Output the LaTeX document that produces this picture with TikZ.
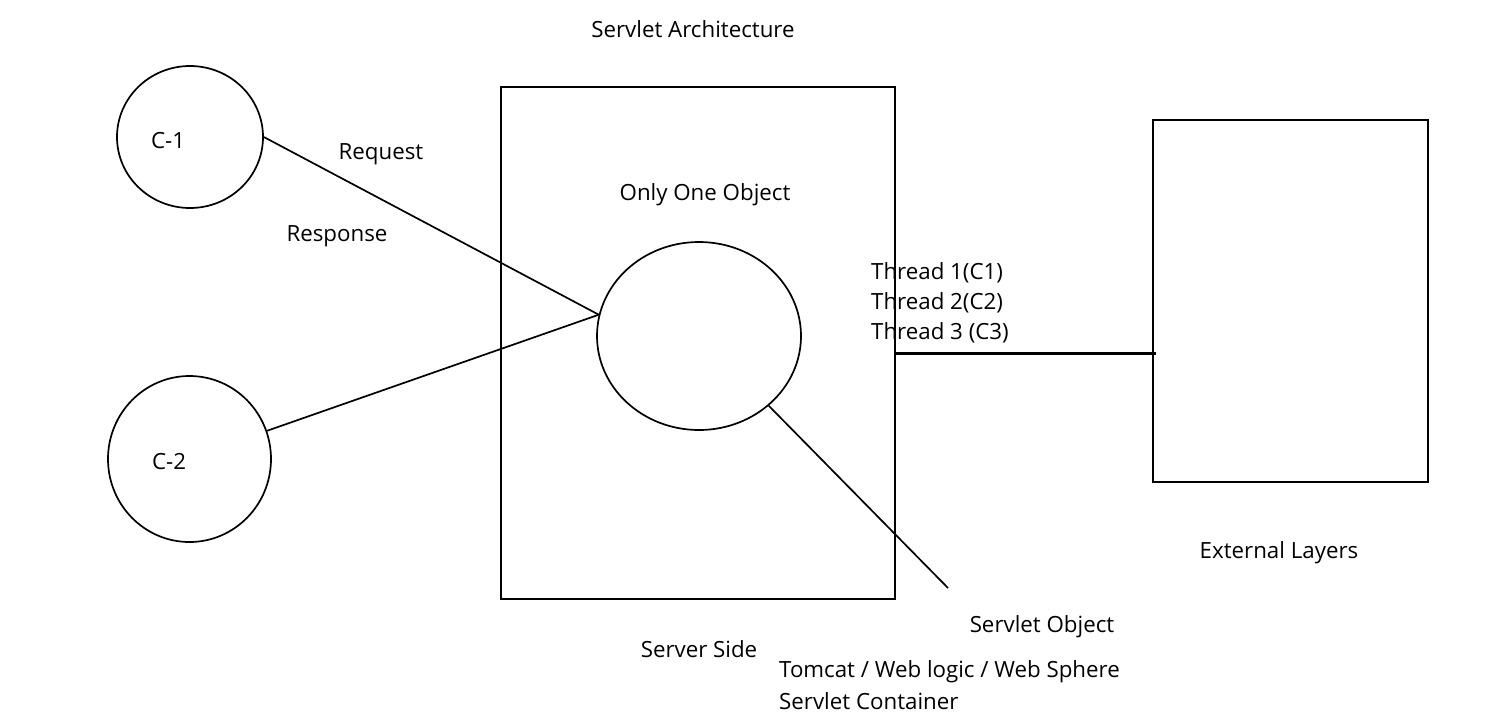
\documentclass[tikz,border=0pt]{standalone}
\usepackage{fontspec}
\setmainfont{Open Sans}
\usetikzlibrary{shapes.geometric}
\begin{document}
\begin{tikzpicture}[x=1pt,y=-1pt,
  lbl/.style={font=\fontsize{22.3}{26}\selectfont, inner sep=0pt},
  client/.style={draw, line width=1.7pt, ellipse, inner sep=0pt},
  box/.style={draw, line width=1.7pt, rectangle, inner sep=0pt},
  conn/.style={line width=1.7pt},
  thick conn/.style={line width=3pt}]
\useasboundingbox[fill=white] (0,0) rectangle (1494,713);
% shapes
\node[client, minimum width=146pt, minimum height=142pt] (c1) at (190,137) {};
\node[client, minimum width=163pt, minimum height=166pt] (c2) at (189.5,459) {};
\node[box, minimum width=394pt, minimum height=512pt] (server) at (698,343) {};
\node[client, minimum width=204pt, minimum height=188pt] (obj) at (699,336) {};
\node[box, minimum width=275pt, minimum height=362pt] (ext) at (1290.5,301) {};
% labels
\node[lbl] (c1t) at (168,141) {C-1};
\node[lbl] (c2t) at (169,462) {C-2};
\node[lbl] (title) at (693,29.5) {Servlet Architecture};
\node[lbl] (req) at (381,154.5) {Request};
\node[lbl] (resp) at (337,236.5) {Response};
\node[lbl] (only) at (705,194.5) {Only One Object};
\node[lbl, anchor=west] (t1) at (871,272.5) {Thread 1(C1)};
\node[lbl, anchor=west] (t2) at (871,302.5) {Thread 2(C2)};
\node[lbl, anchor=west] (t3) at (871,332.5) {Thread 3 (C3)};
\node[lbl] (extl) at (1279,552.5) {External Layers};
\node[lbl] (sobj) at (1042,626.5) {Servlet Object};
\node[lbl] (sside) at (699,649.5) {Server Side};
\node[lbl, anchor=west] (tom) at (779,671.5) {Tomcat / Web logic / Web Sphere};
\node[lbl, anchor=west] (cont) at (779,701.5) {Servlet Container};
% connectors
\coordinate (sobjend) at (948,588);
\coordinate (hy) at (0,353);
\draw[conn] (c1.east) -- (obj.168);
\draw[conn] (c2.20) -- (obj.168);
\draw[conn] (obj.-45) -- (sobjend);
\draw[thick conn] (server.east |- hy) -- ([xshift=4pt]ext.west |- hy);
\end{tikzpicture}
\end{document}
